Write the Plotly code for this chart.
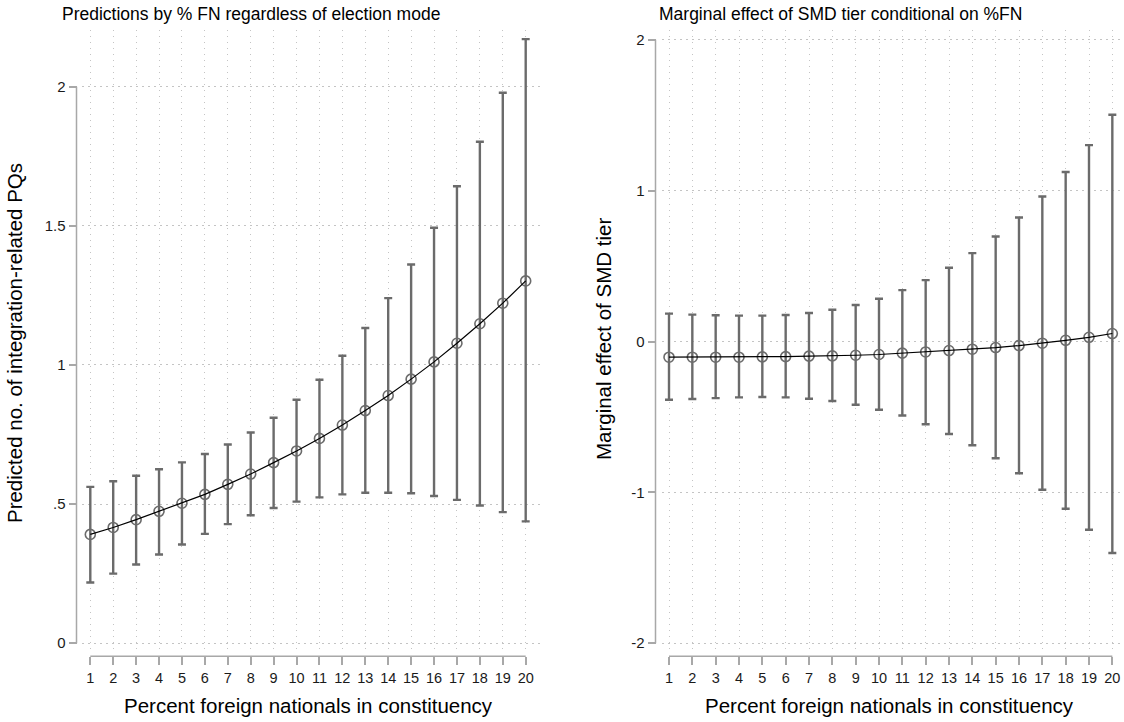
import plotly.graph_objects as go

# ---- data ----
fn = list(range(1, 21))

pred = [0.391, 0.416, 0.444, 0.474, 0.503, 0.535, 0.571, 0.608, 0.649, 0.691,
        0.736, 0.784, 0.836, 0.890, 0.949, 1.011, 1.078, 1.148, 1.222, 1.302]
pred_hi = [0.562, 0.582, 0.602, 0.625, 0.650, 0.680, 0.714, 0.757, 0.810, 0.875,
           0.947, 1.033, 1.133, 1.240, 1.361, 1.493, 1.642, 1.802, 1.978, 2.171]
pred_lo = [0.218, 0.250, 0.283, 0.319, 0.355, 0.393, 0.428, 0.460, 0.486, 0.509,
           0.524, 0.535, 0.541, 0.541, 0.539, 0.529, 0.515, 0.495, 0.471, 0.438]

me = [-0.104, -0.104, -0.104, -0.104, -0.102, -0.100, -0.097, -0.095, -0.091, -0.086,
      -0.077, -0.069, -0.060, -0.051, -0.040, -0.027, -0.011, 0.008, 0.028, 0.053]
me_hi = [0.185, 0.178, 0.174, 0.172, 0.172, 0.176, 0.189, 0.211, 0.242, 0.284,
         0.341, 0.407, 0.489, 0.586, 0.696, 0.822, 0.962, 1.124, 1.302, 1.504]
me_lo = [-0.386, -0.381, -0.375, -0.370, -0.368, -0.370, -0.379, -0.394, -0.419, -0.452,
         -0.491, -0.549, -0.613, -0.688, -0.774, -0.873, -0.983, -1.109, -1.248, -1.402]

left_yticks = [0, 0.5, 1, 1.5, 2]
left_ytext = ["0", ".5", "1", "1.5", "2"]
right_yticks = [-2, -1, 0, 1, 2]
right_ytext = ["-2", "-1", "0", "1", "2"]

title_left = "Predictions by % FN regardless of election mode"
title_right = "Marginal effect of SMD tier conditional on %FN"
ytitle_left = "Predicted no. of integration-related PQs"
ytitle_right = "Marginal effect of SMD tier"
xtitle = "Percent foreign nationals in constituency"

# ---- styling ----
FONT = "Liberation Sans, Arial, sans-serif"
BAR = "#6b6b6b"
AXIS = "#a8a8a8"
GRID = "#c4c4c4"
W, H = 1124, 722

ydom = [1 - 651 / H, 1 - 30 / H]
xdom_l = [82 / W, 540 / W]
xdom_r = [662 / W, 1.0]
xpos = 1 - 658 / H
ypos_l = 76.5 / W
ypos_r = 655.5 / W

fig = go.Figure()


def add_panel(xa, ya, y, hi, lo):
    fig.add_trace(go.Scatter(
        x=fn, y=y, mode="markers", xaxis=xa, yaxis=ya,
        marker=dict(symbol="circle-open", size=10, color=BAR, line=dict(width=1.6, color=BAR)),
        error_y=dict(type="data", symmetric=False,
                     array=[h - v for h, v in zip(hi, y)],
                     arrayminus=[v - l for v, l in zip(y, lo)],
                     color=BAR, thickness=2.4, width=4),
        hoverinfo="skip"))
    fig.add_trace(go.Scatter(
        x=fn, y=y, mode="lines", xaxis=xa, yaxis=ya,
        line=dict(color="black", width=1.2), hoverinfo="skip"))


add_panel("x", "y", pred, pred_hi, pred_lo)
add_panel("x2", "y2", me, me_hi, me_lo)

common_x = dict(tickmode="array", tickvals=fn, ticktext=[str(v) for v in fn],
                ticks="outside", ticklen=8, tickwidth=1.5, tickcolor=AXIS,
                showgrid=True, gridcolor=GRID, griddash="1.5px,4.5px", gridwidth=1.2,
                showline=False, zeroline=False,
                tickfont=dict(family=FONT, size=14.5, color="#1a1a1a"),
                anchor="free", position=xpos)
common_y = dict(tickmode="array", ticks="outside", ticklen=8, tickwidth=1.5, tickcolor=AXIS,
                showgrid=True, gridcolor=GRID, griddash="2px,4px", gridwidth=1.2,
                showline=False, zeroline=False,
                tickfont=dict(family=FONT, size=15, color="#1a1a1a"),
                anchor="free", domain=ydom)

fig.update_layout(
    width=W, height=H, margin=dict(l=0, r=0, t=0, b=0),
    paper_bgcolor="white", plot_bgcolor="white", showlegend=False,
    font=dict(family=FONT, color="black"),
    xaxis=dict(domain=xdom_l, range=[0.638, 20.624], **common_x),
    yaxis=dict(range=[-0.0215, 2.204], tickvals=left_yticks, ticktext=left_ytext,
               position=ypos_l, **common_y),
    xaxis2=dict(domain=xdom_r, range=[0.70, 20.50], **common_x),
    yaxis2=dict(range=[-2.04, 2.066], tickvals=right_yticks, ticktext=right_ytext,
                position=ypos_r, **common_y),
)

# axis lines spanning only the tick range (Stata style)
shapes = [
    dict(type="line", xref="paper", yref="y", x0=ypos_l, x1=ypos_l,
         y0=left_yticks[0], y1=left_yticks[-1], line=dict(color=AXIS, width=1.5)),
    dict(type="line", xref="paper", yref="y2", x0=ypos_r, x1=ypos_r,
         y0=right_yticks[0], y1=right_yticks[-1], line=dict(color=AXIS, width=1.5)),
    dict(type="line", xref="x", yref="paper", x0=fn[0], x1=fn[-1],
         y0=xpos, y1=xpos, line=dict(color=AXIS, width=1.5)),
    dict(type="line", xref="x2", yref="paper", x0=fn[0], x1=fn[-1],
         y0=xpos, y1=xpos, line=dict(color=AXIS, width=1.5)),
]
fig.update_layout(shapes=shapes)

ann = [
    dict(text=title_left, x=60 / W, y=1 - 14 / H, xanchor="left", yanchor="middle",
         font=dict(size=17.5, family=FONT, color="black")),
    dict(text=title_right, x=657 / W, y=1 - 14 / H, xanchor="left", yanchor="middle",
         font=dict(size=17.5, family=FONT, color="black")),
    dict(text=ytitle_left, x=14 / W, y=1 - 344 / H, textangle=-90, xanchor="center", yanchor="middle",
         font=dict(size=20.5, family=FONT, color="black")),
    dict(text=ytitle_right, x=603 / W, y=1 - 340 / H, textangle=-90, xanchor="center", yanchor="middle",
         font=dict(size=20.5, family=FONT, color="black")),
    dict(text=xtitle, x=308 / W, y=1 - 707 / H, xanchor="center", yanchor="middle",
         font=dict(size=20.5, family=FONT, color="black")),
    dict(text=xtitle, x=890 / W, y=1 - 707 / H, xanchor="center", yanchor="middle",
         font=dict(size=20.5, family=FONT, color="black")),
]
for a in ann:
    a.update(xref="paper", yref="paper", showarrow=False)
fig.update_layout(annotations=ann)

# remove the browser's default body margin so the figure sits at the window origin
fig.write_html("out.html",
               config={"displayModeBar": False},
               post_script="document.body.style.margin='0';document.body.style.overflow='hidden';")
